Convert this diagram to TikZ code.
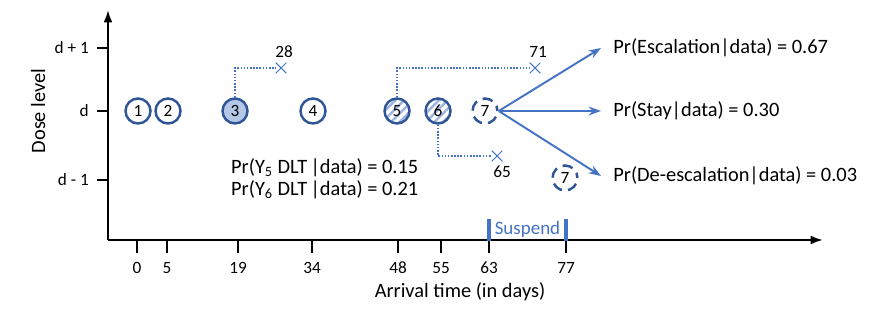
\documentclass[tikz,border=0pt]{standalone}
\usepackage{fontspec}
\setmainfont{Carlito}
\usetikzlibrary{arrows.meta, patterns.meta, shapes.misc}

\definecolor{ptblue}{HTML}{2F5597}
\definecolor{linkblue}{HTML}{4472C4}
\definecolor{doneblue}{HTML}{B4C7E7}
\definecolor{hatchblue}{HTML}{9DB5E0}

\begin{document}
\begin{tikzpicture}[
		% Pixel-like units: x is right, y is down
		x={(0.02cm, 0cm)},
		y={(0cm, -0.02cm)},
		font=\fontsize{11.6}{13}\selectfont,
		axis/.style={line width=1.2pt, -{Latex[length=7pt, width=5pt]}},
		smalltxt/.style={font=\fontsize{9.8}{11}\selectfont},
		patient/.style={circle, draw=ptblue, line width=1.4pt, minimum size=0.5cm, inner sep=0pt, smalltxt},
		toxic/.style={patient, pattern={Lines[angle=45, distance=3.5pt, line width=1.4pt]}, pattern color=hatchblue},
		pending/.style={patient, dash pattern=on 6pt off 3.5pt, dash phase=3pt},
		followup/.style={linkblue, line width=1pt, dash pattern=on 0.9pt off 0.9pt},
		outcome/.style={cross out, draw=linkblue, line width=0.6pt, minimum size=5.5pt, inner sep=0pt},
		decision/.style={linkblue, line width=1.1pt, -{Stealth[length=7pt, width=5pt]}}
		]
		
		\useasboundingbox (0,0) rectangle (882,313);
		
		% ==========================================
		% 1. Axes
		% ==========================================
		\coordinate (O) at (108,240);
		\draw[axis] (O) -- (823,240);
		\draw[axis] (O) -- (108,10);
		
		\node[rotate=90] (ylab) at (38,111) {Dose level};
		\node (xlab) at (460,292) {Arrival time (in days)};
		
		% Dose levels
		\foreach \py/\lab/\nm in {48/d + 1/up, 111/d/mid, 180/d - 1/down} {
			\draw[line width=1.2pt] (97,\py) -- (108,\py);
			\node[anchor=east, smalltxt] (lvl\nm) at (95,\py) {\lab};
		}
		
		% Arrival times
		\foreach \px/\lab in {137/0, 167/5, 238/19, 312/34, 398/48, 441/55, 489/63, 566/77} {
			\draw[line width=1pt] (\px,240) -- (\px,253);
			\node[smalltxt] (t\lab) at (\px,268) {\lab};
		}
		
		% ==========================================
		% 2. Patients at dose d
		% ==========================================
		\node[patient] (c1) at (138,111) {1};
		\node[patient] (c2) at (168,111) {2};
		\node[patient, fill=doneblue] (c3) at (235,111) {3};
		\node[patient] (c4) at (313,111) {4};
		\node[toxic] (c5) at (397,111) {5};
		\node[toxic] (c6) at (438,111) {6};
		\node[pending] (c7) at (485,111) {7};
		\node[pending] (c7b) at (565,178) {7};
		
		% ==========================================
		% 3. Follow-up windows
		% ==========================================
		\node[outcome] (x28) at (281,68) {};
		\node[smalltxt] (l28) at (284,52) {28};
		\draw[followup] (c3.north) |- (x28);
		
		\node[outcome] (x71) at (535,68) {};
		\node[smalltxt] (l71) at (538,52) {71};
		\draw[followup] (c5.north) |- (x71);
		
		\node[outcome] (x65) at (497,156) {};
		\node[smalltxt] (l65) at (502,172) {65};
		\draw[followup] (c6.south) |- (x65);
		
		\node[anchor=west, align=left, font=\fontsize{11.6}{12.5}\selectfont] (pdlt) at (225,179)
		{Pr(Y\textsubscript{5} DLT\,|data) = 0.15\\Pr(Y\textsubscript{6} DLT\,|data) = 0.21};
		
		% ==========================================
		% 4. Decision for patient 7
		% ==========================================
		\node[anchor=west, inner xsep=0.24cm] (pesc) at (601,48) {Pr(Escalation|data) = 0.67};
		\node[anchor=west, inner xsep=0.24cm] (pstay) at (601,111) {Pr(Stay|data) = 0.30};
		\node[anchor=west, inner xsep=0.24cm] (pdesc) at (601,176) {Pr(De-escalation|data) = 0.03};
		
		\draw[decision] (c7.east) -- (pesc.west);
		\draw[decision] (c7.east) -- (pstay.west);
		\draw[decision] (c7.east) -- (pdesc.west);
		
		% ==========================================
		% 5. Suspension period
		% ==========================================
		\coordinate (s63) at (489,219);
		\coordinate (s77) at (566,219);
		\draw[linkblue, line width=2pt] (s63) -- (489,241);
		\draw[linkblue, line width=2pt] (s77) -- (566,241);
		\node[text=linkblue, font=\fontsize{10.8}{12}\selectfont] (susp) at (527.5,229) {Suspend};
		
	\end{tikzpicture}
\end{document}
